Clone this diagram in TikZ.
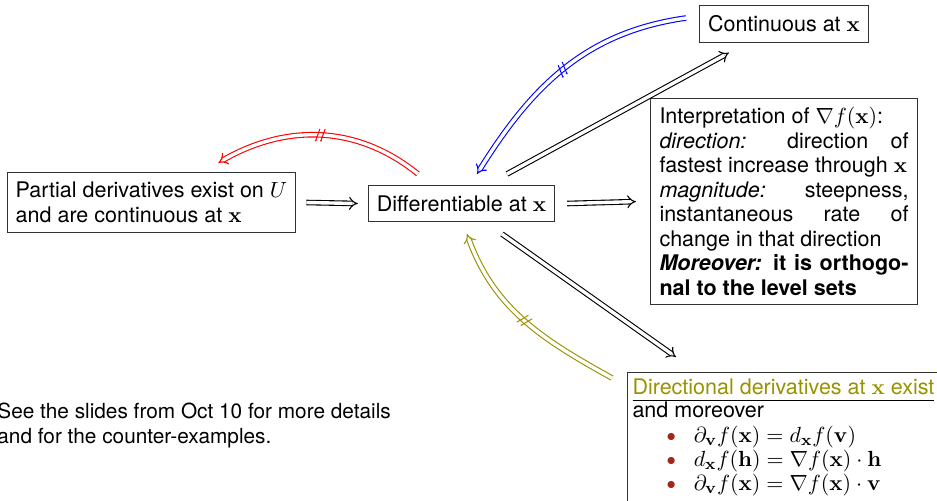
\documentclass[tikz,border=0pt]{standalone}
\usepackage{amsmath}
\usepackage{amssymb}
\usepackage{xcolor}
\usepackage[no-math]{fontspec}
\setmainfont{TeX Gyre Heros}
\usepackage{tikz}
\usetikzlibrary{arrows.meta,decorations.markings,calc}
\definecolor{olivetxt}{RGB}{153,146,0}
\definecolor{ballred}{RGB}{165,38,25}
\newcommand{\ballitem}{\hspace*{17pt}\textcolor{ballred}{\raisebox{0.6pt}{\small$\bullet$}}\hspace*{9pt}}

\begin{document}
\begin{tikzpicture}[x=0.5pt,y=-0.5pt,
  font=\fontsize{10.75}{12.25}\selectfont,
  box/.style={draw=black!80,line width=0.5pt,inner xsep=4.3pt,inner ysep=5pt},
  imp/.style={double,double distance=1.7pt,line width=0.55pt,-{Implies}},
  notimp/.style={imp,postaction={decorate},decoration={markings,
    mark=at position 0.5 with {
      \draw[line width=0.5pt] (-2.3pt,-3.2pt) -- (-0.3pt,3.2pt);
      \draw[line width=0.5pt] (0.3pt,-3.2pt) -- (2.3pt,3.2pt);}}}]
  \useasboundingbox (0,0) rectangle (937,500);

  \node[box,align=left] (part) at (151.5,202.5)
    {Partial derivatives exist on $U$\\and are continuous at $\mathbf{x}$};
  \node[box] (diff) at (461.5,203.5) {Differentiable at $\mathbf{x}$};
  \node[box] (cont) at (784,24) {Continuous at $\mathbf{x}$};
  \node[box,anchor=north west,text width=124.5pt,align=justify,inner sep=4.5pt] (interp) at (650,98)
    {Interpretation of $\nabla f(\mathbf{x})$:\\
     \emph{direction:} direction of\linebreak fastest increase through $\mathbf{x}$\\
     \emph{magnitude:} steepness,\linebreak instantaneous rate of\linebreak change in that direction\\
     \textbf{\emph{Moreover:} it is orthogo-\linebreak nal to the level sets}};
  \node[box,anchor=north west,inner sep=2.5pt] (dirder) at (627,372)
    {\begin{tabular}{@{}l@{}}
     \textcolor{olivetxt}{Directional derivatives at $\mathbf{x}$ exist}\\[-1pt] \hline
     and moreover\\
     \ballitem$\partial_{\mathbf{v}} f(\mathbf{x}) = d_{\mathbf{x}} f(\mathbf{v})$\\[-0.3pt]
     \ballitem$d_{\mathbf{x}} f(\mathbf{h}) = \nabla f(\mathbf{x}) \cdot \mathbf{h}$\\[-0.3pt]
     \ballitem$\partial_{\mathbf{v}} f(\mathbf{x}) = \nabla f(\mathbf{x}) \cdot \mathbf{v}$
     \end{tabular}\\[20pt]};
  \node[anchor=north west,align=left,inner sep=0pt,font=\fontsize{10.4}{12.25}\selectfont] (note) at (-3,403)
    {See the slides from Oct 10 for more details\\and for the counter-examples.};

  \draw[imp] ($(part.east)+(10,0)$) -- ($(diff.west)+(-10,0)$);
  \draw[imp] ($(diff.east)+(12,0)$) -- ($(interp.west)+(-14,0)$);
  \draw[imp] ($(diff.north)+(45.5,-11)$) -- ($(cont.south west)+(30,10)$);
  \draw[imp] ($(diff.south)+(40.5,12)$) -- ($(dirder.north west)+(49,-15)$);

  \draw[notimp,red] ($(diff.north)+(-43.5,-11)$) to[out=141,in=30] ($(part.north east)+(-78,-9)$);
  \draw[notimp,blue] ($(cont.west)+(-13,-6)$) to[out=188,in=58] ($(diff.north)+(15.5,-11)$);
  \draw[notimp,olivetxt] ($(dirder.north west)+(-15,6)$) to[out=151,in=-70] ($(diff.south)+(5.5,12)$);
\end{tikzpicture}
\end{document}
